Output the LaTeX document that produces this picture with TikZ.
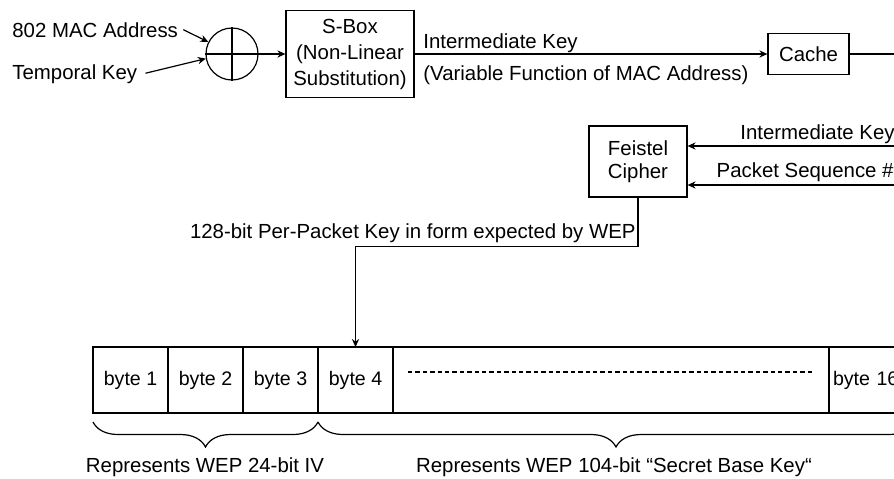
\documentclass[tikz,border=0pt]{standalone}
\usepackage{fontspec}
\setmainfont{Liberation Sans}
\usetikzlibrary{arrows.meta,decorations.pathreplacing}

\tikzset{
  blk/.style={draw, line width=0.6pt, align=center, inner sep=0pt},
  lbl/.style={inner sep=0pt, font=\fontsize{10.2}{12.5}\selectfont},
  cell/.style={draw, line width=0.6pt, minimum width=37.5pt, minimum height=33pt, inner sep=0pt, outer sep=0pt, anchor=west, font=\fontsize{9.8}{12}\selectfont},
  link/.style={line width=0.6pt, -{Stealth[length=4pt,width=3.6pt]}},
  brc/.style={line width=0.6pt, decorate, decoration={brace, mirror, amplitude=12.5pt}},
}

\begin{document}
\begin{tikzpicture}[x=0.5pt,y=-0.5pt]
\useasboundingbox (0,0) rectangle (894,478);
\clip (0,0) rectangle (894,478);

% phase 1: mix MAC address and temporal key
\node[lbl, anchor=base west] (mac) at (12,37) {802 MAC Address};
\node[lbl, anchor=base west] (tk) at (12,79.5) {Temporal Key};
\node[draw, line width=0.6pt, circle, minimum size=26pt, inner sep=0pt] (xor) at (232,54) {};
\draw[line width=0.6pt] (xor.north) -- (xor.south) (xor.west) -- (xor.east);

\node[blk, minimum width=64pt, minimum height=43.5pt, font=\fontsize{10.2}{13}\selectfont] (sbox) at (350,54) {S-Box\\(Non-Linear\\Substitution)};
\node[blk, minimum width=40.5pt, minimum height=20.5pt, font=\fontsize{10.2}{12.5}\selectfont] (cache) at (808.5,54) {Cache};
\coordinate (cacheout) at (894,54);

\draw[link] ([xshift=2.5pt]mac.east) -- (xor.153);
\draw[link] ([xshift=4pt,yshift=0.5pt]tk.east) -- (xor.190);
\draw[link] (xor) -- (sbox);
\draw[link] (sbox) -- (cache);
\draw[line width=0.6pt] (cache) -- (cacheout);

\node[lbl, anchor=base west] (ik) at (423,48) {Intermediate Key};
\node[lbl, anchor=base west] (vf) at (423,80) {(Variable Function of MAC Address)};

% phase 2: per-packet key
\node[blk, minimum width=49pt, minimum height=35.5pt, font=\fontsize{10.2}{11.5}\selectfont] (feistel) at (638,161.5) {Feistel\\Cipher};
\coordinate (ikin) at (894,146);
\coordinate (psin) at (894,185);
\draw[link] (ikin) -- (ikin -| feistel.east);
\draw[link] (psin) -- (psin -| feistel.east);
\node[lbl, anchor=base east] (iklbl) at (895,139.5) {Intermediate Key};
\node[lbl, anchor=base east] (pslbl) at (894,177) {Packet Sequence \#};

% WEP key bytes
\node[cell] (b1) at (93,380) {byte 1};
\node[cell] (b2) at (b1.east) {byte 2};
\node[cell] (b3) at (b2.east) {byte 3};
\node[cell] (b4) at (b3.east) {byte 4};
\node[cell, minimum width=218pt] (dots) at (b4.east) {};
\node[cell, text width=34pt, inner xsep=2pt, align=left] (b16) at (dots.east) {byte 16};
\draw[line width=0.6pt, dash pattern=on 2.2pt off 1.5pt] ([shift={(15,25)}]dots.north west) -- ([shift={(-16,25)}]dots.north east);

\draw[link] (feistel.south) -- ++(0,49) -| (b4.north);
\node[lbl, anchor=base east] (pkk) at (636,238.5) {128-bit Per-Packet Key in form expected by WEP};

\coordinate (braceend) at (914,422);
\draw[brc] ([yshift=-4.5pt]b1.south west) -- ([yshift=-4.5pt]b4.south west);
\draw[brc] ([yshift=-4.5pt]b4.south west) -- (braceend);
\node[lbl, anchor=base] (ivlbl) at (205,472) {Represents WEP 24-bit IV};
\node[lbl, anchor=base] (sklbl) at (614,472) {Represents WEP 104-bit “Secret Base Key“};
\end{tikzpicture}
\end{document}
